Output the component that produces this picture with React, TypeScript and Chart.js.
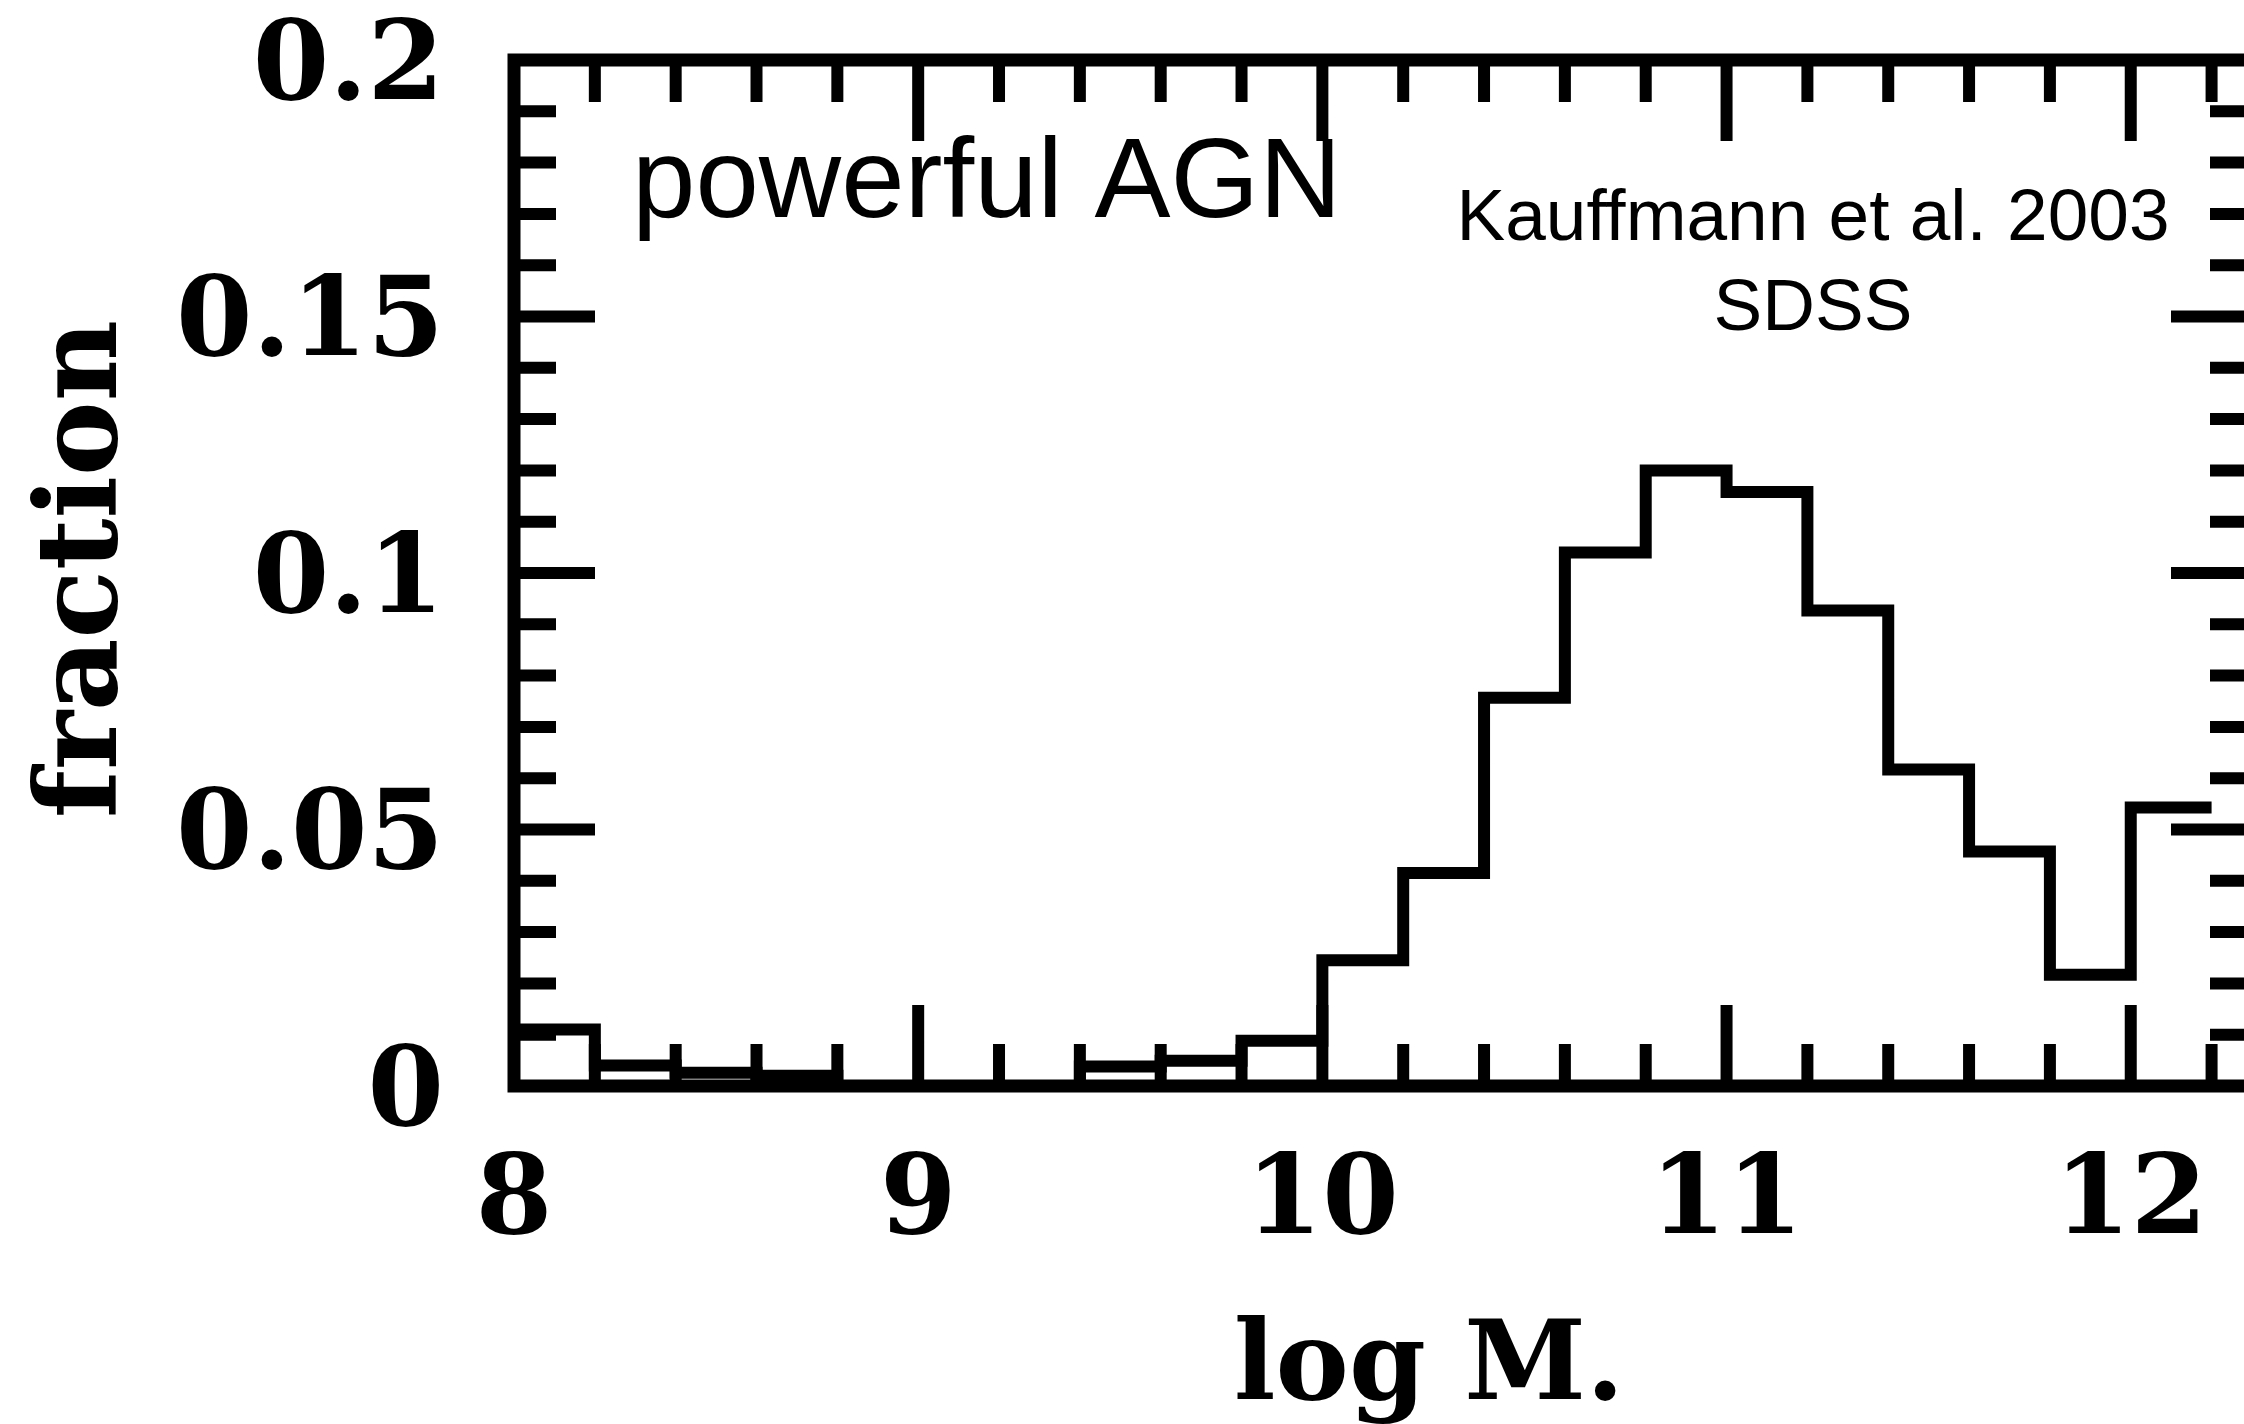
import { useEffect, useRef } from 'react';
import { Chart, registerables } from 'chart.js';

Chart.register(...registerables);

// ---- data ----
const binEdges = [8.0, 8.2, 8.4, 8.6, 8.8, 9.0, 9.2, 9.4, 9.6, 9.8, 10.0, 10.2, 10.4, 10.6, 10.8, 11.0, 11.2, 11.4, 11.6, 11.8, 12.0, 12.2];
const fractions = [0.011, 0.004, 0.0026, 0.002, 0, 0, 0, 0.0038, 0.0049, 0.0088, 0.0245, 0.0415, 0.0757, 0.104, 0.12, 0.1158, 0.0927, 0.0617, 0.0457, 0.0217, 0.0543];

const xTickValues = [8, 9, 10, 11, 12];
const xTickLabels = ['8', '9', '10', '11', '12'];
const yTickValues = [0, 0.05, 0.1, 0.15, 0.2];
const yTickLabels = ['0', '0.05', '0.1', '0.15', '0.2'];
const xMinorStep = 0.2;
const yMinorStep = 0.01;
const xRange = [8, 12.3];
const yRange = [0, 0.2];

const xTitle = 'log M.';
const yTitle = 'fraction';
const sampleLabel = 'powerful AGN';
const sourceLines = ['Kauffmann et al. 2003', 'SDSS'];

const SERIF = '"DejaVu Serif", serif';
const SANS = '"Liberation Sans", Arial, sans-serif';

const framePlugin = {
  id: 'frameAndTicks',
  afterDraw(chart: any) {
    const { ctx, chartArea, scales } = chart;
    const { left, right, top, bottom } = chartArea;
    const xs = scales.x;
    const ys = scales.y;
    const majorLen = 81;
    const minorLen = 42;
    ctx.save();
    ctx.strokeStyle = '#000';
    ctx.lineCap = 'butt';
    ctx.lineWidth = 12;
    ctx.beginPath();
    const nx = Math.round((xRange[1] - xRange[0]) / xMinorStep);
    for (let i = 0; i <= nx; i++) {
      const v = xRange[0] + i * xMinorStep;
      if (v > xRange[1] + 1e-9) break;
      const isMajor = xTickValues.some((t) => Math.abs(t - v) < 1e-6);
      const len = isMajor ? majorLen : minorLen;
      const px = xs.getPixelForValue(v);
      ctx.moveTo(px, bottom);
      ctx.lineTo(px, bottom - len);
      ctx.moveTo(px, top);
      ctx.lineTo(px, top + len);
    }
    const ny = Math.round((yRange[1] - yRange[0]) / yMinorStep);
    for (let i = 0; i <= ny; i++) {
      const v = yRange[0] + i * yMinorStep;
      const isMajor = yTickValues.some((t) => Math.abs(t - v) < 1e-6);
      const len = isMajor ? majorLen : minorLen;
      const py = ys.getPixelForValue(v);
      ctx.moveTo(left, py);
      ctx.lineTo(left + len, py);
      ctx.moveTo(right, py);
      ctx.lineTo(right - len, py);
    }
    ctx.stroke();
    ctx.lineJoin = 'miter';
    ctx.lineWidth = 13;
    ctx.strokeRect(left, top, right - left, bottom - top);

    ctx.fillStyle = '#000';
    // inner annotations
    ctx.font = `114px ${SANS}`;
    ctx.textAlign = 'left';
    ctx.textBaseline = 'alphabetic';
    ctx.fillText(sampleLabel, left + 118, top + 157);

    ctx.font = `73px ${SANS}`;
    ctx.textAlign = 'center';
    ctx.fillText(sourceLines[0], left + 1299, top + 180);
    ctx.fillText(sourceLines[1], left + 1299, top + 270);

    // axis titles
    ctx.font = `bold 110px ${SERIF}`;
    ctx.textAlign = 'center';
    ctx.fillText(xTitle, left + 915, bottom + 313);

    ctx.save();
    ctx.translate(left - 398, (top + bottom) / 2 - 4);
    ctx.rotate(-Math.PI / 2);
    ctx.font = `bold 112px ${SERIF}`;
    ctx.textAlign = 'center';
    ctx.fillText(yTitle, 0, 0);
    ctx.restore();

    ctx.restore();
  },
};

export default function App() {
  const canvasRef = useRef<HTMLCanvasElement | null>(null);

  useEffect(() => {
    const canvas = canvasRef.current;
    if (!canvas) return;
    const n = fractions.length;
    const points = binEdges.map((e, i) => ({ x: e, y: fractions[Math.min(i, n - 1)] }));

    const chart = new Chart(canvas, {
      type: 'line',
      data: {
        datasets: [
          {
            label: 'fraction',
            data: points,
            stepped: 'before',
            borderColor: '#000',
            borderWidth: 12,
            borderJoinStyle: 'miter',
            borderCapStyle: 'butt',
            pointRadius: 0,
            fill: false,
            tension: 0,
          },
        ],
      },
      options: {
        responsive: false,
        devicePixelRatio: 1,
        animation: false,
        events: [],
        layout: { padding: { left: 0, top: 60, right: 48, bottom: 0 } },
        plugins: {
          legend: { display: false },
          tooltip: { enabled: false },
          title: { display: false },
        },
        scales: {
          x: {
            type: 'linear',
            position: 'bottom',
            min: xRange[0],
            max: xRange[1],
            grid: { display: false, drawTicks: false },
            border: { display: false },
            ticks: {
              color: '#000',
              padding: 52,
              maxRotation: 0,
              autoSkip: false,
              font: { family: SERIF, size: 110, weight: 'bold', lineHeight: 1.2 },
              callback: (v: any) => {
                const i = xTickValues.findIndex((t) => Math.abs(t - Number(v)) < 1e-9);
                return i >= 0 ? xTickLabels[i] : '';
              },
            },
            afterBuildTicks: (s: any) => {
              s.ticks = xTickValues.map((v) => ({ value: v }));
            },
            afterFit: (s: any) => {
              s.height = 338;
              s.paddingLeft = 0;
              s.paddingRight = 0;
              s.paddingTop = 0;
              s.paddingBottom = 0;
            },
          },
          y: {
            type: 'linear',
            position: 'left',
            min: yRange[0],
            max: yRange[1],
            grid: { display: false, drawTicks: false },
            border: { display: false },
            ticks: {
              color: '#000',
              padding: 70,
              labelOffset: 10,
              autoSkip: false,
              font: { family: SERIF, size: 110, weight: 'bold', lineHeight: 1.2 },
              callback: (v: any) => {
                const i = yTickValues.findIndex((t) => Math.abs(t - Number(v)) < 1e-9);
                return i >= 0 ? yTickLabels[i] : '';
              },
            },
            afterBuildTicks: (s: any) => {
              s.ticks = yTickValues.map((v) => ({ value: v }));
            },
            afterFit: (s: any) => {
              s.width = 514;
              s.paddingLeft = 0;
              s.paddingRight = 0;
              s.paddingTop = 0;
              s.paddingBottom = 0;
            },
          },
        },
      },
      plugins: [framePlugin],
    } as any);

    return () => chart.destroy();
  }, []);

  return (
    <div
      style={{
        position: 'fixed',
        left: 0,
        top: 0,
        width: 2244,
        height: 1424,
        overflow: 'hidden',
        background: '#fff',
      }}
    >
      <canvas
        ref={canvasRef}
        width={2300}
        height={1424}
        style={{ display: 'block', width: 2300, height: 1424 }}
      />
    </div>
  );
}
